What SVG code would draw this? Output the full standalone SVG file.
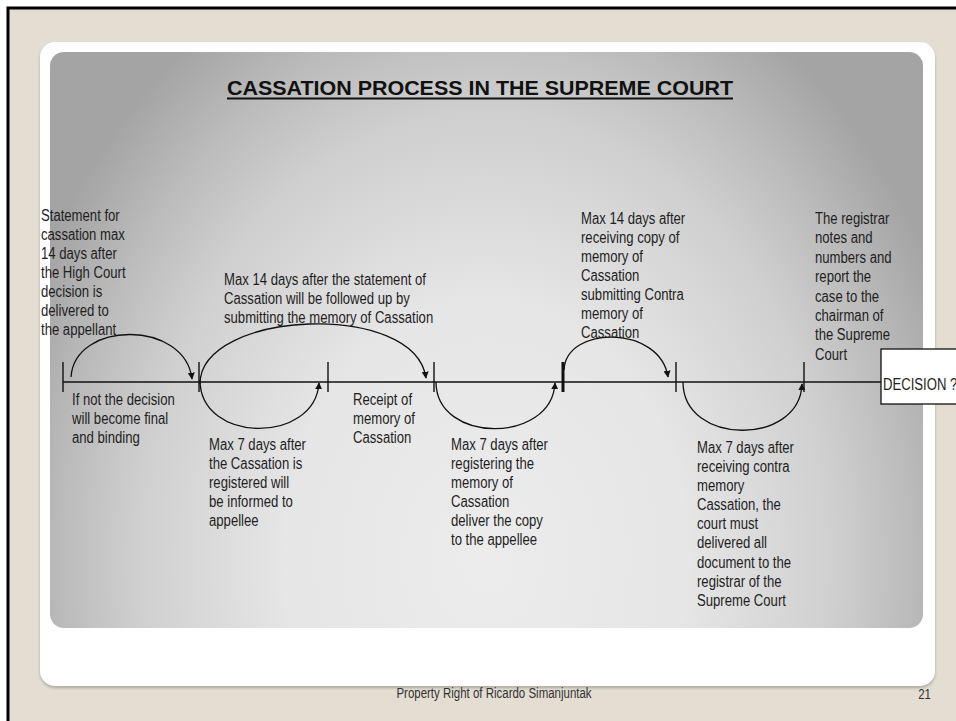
<svg xmlns="http://www.w3.org/2000/svg" width="956" height="721" viewBox="0 0 956 721">
  <style>
    .body { font-family: "Liberation Sans", Arial, sans-serif; font-size: 16px; fill: #1e1e1e; }
    .title { font-family: "Liberation Sans", Arial, sans-serif; font-size: 20px; font-weight: bold; fill: #111; }
    .foot { font-family: "Liberation Sans", Arial, sans-serif; font-size: 14px; fill: #333; }
    .conn { fill: none; stroke: #111; stroke-width: 1.3; }
    .axis { fill: none; stroke: #111; stroke-width: 1.6; }
    .tick { stroke: #111; stroke-width: 1.4; }
    .tick-bold { stroke: #111; stroke-width: 3; }
  </style>
  <defs>
    <marker id="arrow" viewBox="0 0 10 10" refX="9" refY="5" markerWidth="7" markerHeight="7" markerUnits="userSpaceOnUse" orient="auto">
      <path d="M0,0 L10,5 L0,10 z" fill="#111"/>
    </marker>
    <radialGradient id="panelShade" gradientUnits="userSpaceOnUse" cx="0" cy="0" r="1" gradientTransform="translate(486,560) scale(500,640)">
      <stop offset="0" stop-color="#ececec"/>
      <stop offset="0.4" stop-color="#e6e6e6"/>
      <stop offset="0.7" stop-color="#cfcfcf"/>
      <stop offset="0.85" stop-color="#bbbbbb"/>
      <stop offset="1" stop-color="#a4a4a4"/>
    </radialGradient>
    <filter id="cardShadow" x="-5%" y="-5%" width="110%" height="115%">
      <feDropShadow dx="0" dy="2" stdDeviation="1.5" flood-color="#8a8680" flood-opacity="0.6"/>
    </filter>
  </defs>

  <!-- slide background -->
  <rect x="0" y="0" width="956" height="721" fill="#ffffff"/>
  <rect x="8" y="8" width="948" height="713" fill="#e3ddd2"/>
  <path d="M8,721 V8 H956" fill="none" stroke="#000" stroke-width="3"/>

  <!-- white card and grey content panel -->
  <rect x="40" y="42" width="895" height="644" rx="15" fill="#ffffff" filter="url(#cardShadow)"/>
  <rect x="50" y="52" width="873" height="576" rx="14" fill="url(#panelShade)"/>

  <!-- heading -->
  <g id="title">
    <text class="title" x="227" y="95" textLength="506" lengthAdjust="spacingAndGlyphs">CASSATION PROCESS IN THE SUPREME COURT</text>
    <line x1="227" y1="98.5" x2="733" y2="98.5" stroke="#111" stroke-width="1.8"/>
  </g>

  <!-- timeline, ticks and arcs -->
  <g id="connectors">
    <line class="axis" x1="63" y1="382" x2="881" y2="382"/>
    <line class="tick" x1="63" y1="362" x2="63" y2="392"/>
    <line class="tick" x1="199" y1="362" x2="199" y2="392"/>
    <line class="tick" x1="328" y1="362" x2="328" y2="392"/>
    <line class="tick" x1="434" y1="362" x2="434" y2="392"/>
    <line class="tick-bold" x1="563" y1="362" x2="563" y2="392"/>
    <line class="tick" x1="676" y1="362" x2="676" y2="392"/>
    <line class="tick" x1="804" y1="362" x2="804" y2="392"/>

    <path class="conn" d="M71,377 C75,320 185,320 192,379" marker-end="url(#arrow)"/>
    <path class="conn" d="M200,384 C200,310 415,300 426,378" marker-end="url(#arrow)"/>
    <path class="conn" d="M200,380 C200,444 315,444 319,383" marker-end="url(#arrow)"/>
    <path class="conn" d="M436,382 C436,444 552,444 555,383" marker-end="url(#arrow)"/>
    <path class="conn" d="M564,370 C566,325 660,325 668,377" marker-end="url(#arrow)"/>
    <path class="conn" d="M683,382 C683,446 800,446 802,384" marker-end="url(#arrow)"/>
  </g>

  <!-- labels: narrow lettering via horizontal scale -->
  <g id="statement" transform="translate(41,221) scale(0.82,1)">
    <text class="body">
      <tspan x="0">Statement for</tspan>
      <tspan x="0" dy="19">cassation max</tspan>
      <tspan x="0" dy="19">14 days after</tspan>
      <tspan x="0" dy="19">the High Court</tspan>
      <tspan x="0" dy="19">decision is</tspan>
      <tspan x="0" dy="19">delivered to</tspan>
      <tspan x="0" dy="19">the appellant</tspan>
    </text>
  </g>

  <g id="memory-deadline" transform="translate(224,285) scale(0.82,1)">
    <text class="body">
      <tspan x="0">Max 14 days after the statement of</tspan>
      <tspan x="0" dy="19">Cassation will be followed up by</tspan>
      <tspan x="0" dy="19">submitting the memory of Cassation</tspan>
    </text>
  </g>

  <g id="final-binding" transform="translate(72,405) scale(0.82,1)">
    <text class="body">
      <tspan x="0">If not the decision</tspan>
      <tspan x="0" dy="19">will become final</tspan>
      <tspan x="0" dy="19">and binding</tspan>
    </text>
  </g>

  <g id="inform-appellee" transform="translate(209,450) scale(0.82,1)">
    <text class="body">
      <tspan x="0">Max 7 days after</tspan>
      <tspan x="0" dy="19">the Cassation is</tspan>
      <tspan x="0" dy="19">registered will</tspan>
      <tspan x="0" dy="19">be informed to</tspan>
      <tspan x="0" dy="19">appellee</tspan>
    </text>
  </g>

  <g id="receipt" transform="translate(353,405) scale(0.82,1)">
    <text class="body">
      <tspan x="0">Receipt of</tspan>
      <tspan x="0" dy="19">memory of</tspan>
      <tspan x="0" dy="19">Cassation</tspan>
    </text>
  </g>

  <g id="deliver-copy" transform="translate(451,450) scale(0.82,1)">
    <text class="body">
      <tspan x="0">Max 7 days after</tspan>
      <tspan x="0" dy="19">registering the</tspan>
      <tspan x="0" dy="19">memory of</tspan>
      <tspan x="0" dy="19">Cassation</tspan>
      <tspan x="0" dy="19">deliver the copy</tspan>
      <tspan x="0" dy="19">to the appellee</tspan>
    </text>
  </g>

  <g id="contra-memory" transform="translate(581,224) scale(0.82,1)">
    <text class="body">
      <tspan x="0">Max 14 days after</tspan>
      <tspan x="0" dy="19">receiving copy of</tspan>
      <tspan x="0" dy="19">memory of</tspan>
      <tspan x="0" dy="19">Cassation</tspan>
      <tspan x="0" dy="19">submitting Contra</tspan>
      <tspan x="0" dy="19">memory of</tspan>
      <tspan x="0" dy="19">Cassation</tspan>
    </text>
  </g>

  <g id="registrar" transform="translate(815,224) scale(0.82,1)">
    <text class="body">
      <tspan x="0">The registrar</tspan>
      <tspan x="0" dy="19.4">notes and</tspan>
      <tspan x="0" dy="19.4">numbers and</tspan>
      <tspan x="0" dy="19.4">report the</tspan>
      <tspan x="0" dy="19.4">case to the</tspan>
      <tspan x="0" dy="19.4">chairman of</tspan>
      <tspan x="0" dy="19.4">the Supreme</tspan>
      <tspan x="0" dy="19.4">Court</tspan>
    </text>
  </g>

  <g id="deliver-all" transform="translate(697,453) scale(0.82,1)">
    <text class="body">
      <tspan x="0">Max 7 days after</tspan>
      <tspan x="0" dy="19.1">receiving contra</tspan>
      <tspan x="0" dy="19.1">memory</tspan>
      <tspan x="0" dy="19.1">Cassation, the</tspan>
      <tspan x="0" dy="19.1">court must</tspan>
      <tspan x="0" dy="19.1">delivered all</tspan>
      <tspan x="0" dy="19.1">document to the</tspan>
      <tspan x="0" dy="19.1">registrar of the</tspan>
      <tspan x="0" dy="19.1">Supreme Court</tspan>
    </text>
  </g>

  <g id="decision">
    <rect x="881" y="349" width="90" height="55" fill="#ffffff" stroke="#111" stroke-width="1.3"/>
    <text class="body" transform="translate(883,390) scale(0.82,1)">DECISION ?</text>
  </g>

  <!-- footer -->
  <g id="footer">
    <text class="foot" transform="translate(494,698) scale(0.82,1)" text-anchor="middle">Property Right of Ricardo Simanjuntak</text>
    <text class="foot" transform="translate(931,699) scale(0.82,1)" text-anchor="end">21</text>
  </g>
</svg>
